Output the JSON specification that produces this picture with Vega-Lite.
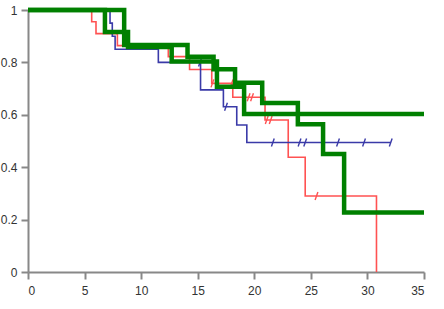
{
  "$schema": "https://vega.github.io/schema/vega-lite/v6.json",
  "autosize": "none",
  "padding": {"left": 28, "top": 10, "right": 20, "bottom": 37},
  "width": 396,
  "height": 262,
  "background": "white",
  "config": {"view": {"stroke": null}},
  "datasets": {
    "curves": [
      {"series": "red", "t": 0, "s": 1},
      {"series": "red", "t": 5.63, "s": 0.955},
      {"series": "red", "t": 6.01, "s": 0.91},
      {"series": "red", "t": 7.9, "s": 0.864},
      {"series": "red", "t": 12.4, "s": 0.822},
      {"series": "red", "t": 14.28, "s": 0.773},
      {"series": "red", "t": 16.24, "s": 0.72},
      {"series": "red", "t": 18.1, "s": 0.667},
      {"series": "red", "t": 20.95, "s": 0.58},
      {"series": "red", "t": 23.0, "s": 0.438},
      {"series": "red", "t": 24.5, "s": 0.29},
      {"series": "red", "t": 30.8, "s": 0},
      {"series": "blue", "t": 0, "s": 1},
      {"series": "blue", "t": 7.25, "s": 0.95},
      {"series": "blue", "t": 7.45, "s": 0.9},
      {"series": "blue", "t": 7.7, "s": 0.85},
      {"series": "blue", "t": 11.52, "s": 0.8},
      {"series": "blue", "t": 15.25, "s": 0.695},
      {"series": "blue", "t": 17.27, "s": 0.631},
      {"series": "blue", "t": 18.45, "s": 0.561},
      {"series": "blue", "t": 19.34, "s": 0.494},
      {"series": "blue", "t": 32.06, "s": 0.494},
      {"series": "greenA", "t": 0, "s": 1},
      {"series": "greenA", "t": 6.8, "s": 0.916},
      {"series": "greenA", "t": 8.84, "s": 0.859},
      {"series": "greenA", "t": 12.7, "s": 0.803},
      {"series": "greenA", "t": 16.7, "s": 0.707},
      {"series": "greenA", "t": 19.1, "s": 0.603},
      {"series": "greenA", "t": 35, "s": 0.603},
      {"series": "greenB", "t": 0, "s": 1},
      {"series": "greenB", "t": 8.5, "s": 0.866},
      {"series": "greenB", "t": 14.1, "s": 0.822},
      {"series": "greenB", "t": 16.4, "s": 0.774},
      {"series": "greenB", "t": 18.3, "s": 0.722},
      {"series": "greenB", "t": 20.7, "s": 0.645},
      {"series": "greenB", "t": 23.85, "s": 0.564},
      {"series": "greenB", "t": 26.08, "s": 0.45},
      {"series": "greenB", "t": 27.94, "s": 0.227},
      {"series": "greenB", "t": 35, "s": 0.227}
    ],
    "censored": [
      {"series": "red", "t": 16.3, "s": 0.72},
      {"series": "red", "t": 18.0, "s": 0.72},
      {"series": "red", "t": 19.5, "s": 0.667},
      {"series": "red", "t": 19.8, "s": 0.667},
      {"series": "red", "t": 21.1, "s": 0.58},
      {"series": "red", "t": 21.45, "s": 0.58},
      {"series": "red", "t": 25.5, "s": 0.29},
      {"series": "blue", "t": 15.2, "s": 0.8},
      {"series": "blue", "t": 17.5, "s": 0.631},
      {"series": "blue", "t": 21.64, "s": 0.494},
      {"series": "blue", "t": 24.0, "s": 0.494},
      {"series": "blue", "t": 24.5, "s": 0.494},
      {"series": "blue", "t": 27.4, "s": 0.494},
      {"series": "blue", "t": 29.7, "s": 0.494},
      {"series": "blue", "t": 32.06, "s": 0.494}
    ]
  },
  "encoding": {
    "x": {
      "field": "t", "type": "quantitative",
      "scale": {"domain": [0, 35], "nice": false, "zero": false},
      "axis": {"title": null, "values": [0, 5, 10, 15, 20, 25, 30, 35], "grid": false, "format": "~g",
        "domainColor": "#888888", "domainWidth": 2, "tickColor": "#888888", "tickWidth": 2, "tickSize": 7,
        "labelFont": "Liberation Sans", "labelFontSize": 12, "labelColor": "#333333", "labelPadding": 6}
    },
    "y": {
      "field": "s", "type": "quantitative",
      "scale": {"domain": [0, 1], "nice": false},
      "axis": {"title": null, "values": [0, 0.2, 0.4, 0.6, 0.8, 1], "grid": false, "format": "~g",
        "domainColor": "#888888", "domainWidth": 2, "tickColor": "#888888", "tickWidth": 2, "tickSize": 7,
        "labelFont": "Liberation Sans", "labelFontSize": 12, "labelColor": "#333333", "labelPadding": 4}
    },
    "color": {
      "field": "series", "type": "nominal",
      "scale": {"domain": ["red", "blue", "greenA", "greenB"], "range": ["#ff5252", "#3a3aa8", "#008000", "#008000"]},
      "legend": null
    }
  },
  "layer": [
    {
      "data": {"name": "curves"},
      "transform": [{"filter": "datum.series === 'red' || datum.series === 'blue'"}],
      "mark": {"type": "line", "interpolate": "step-after", "strokeWidth": 1.6, "clip": false}
    },
    {
      "data": {"name": "censored"},
      "mark": {"type": "point", "shape": "M-0.35,1L0.35,-1", "filled": false, "size": 64, "strokeWidth": 1.4, "opacity": 1}
    },
    {
      "data": {"name": "curves"},
      "transform": [{"filter": "datum.series === 'greenA' || datum.series === 'greenB'"}],
      "mark": {"type": "line", "interpolate": "step-after", "strokeWidth": 4.5, "clip": false}
    }
  ]
}
